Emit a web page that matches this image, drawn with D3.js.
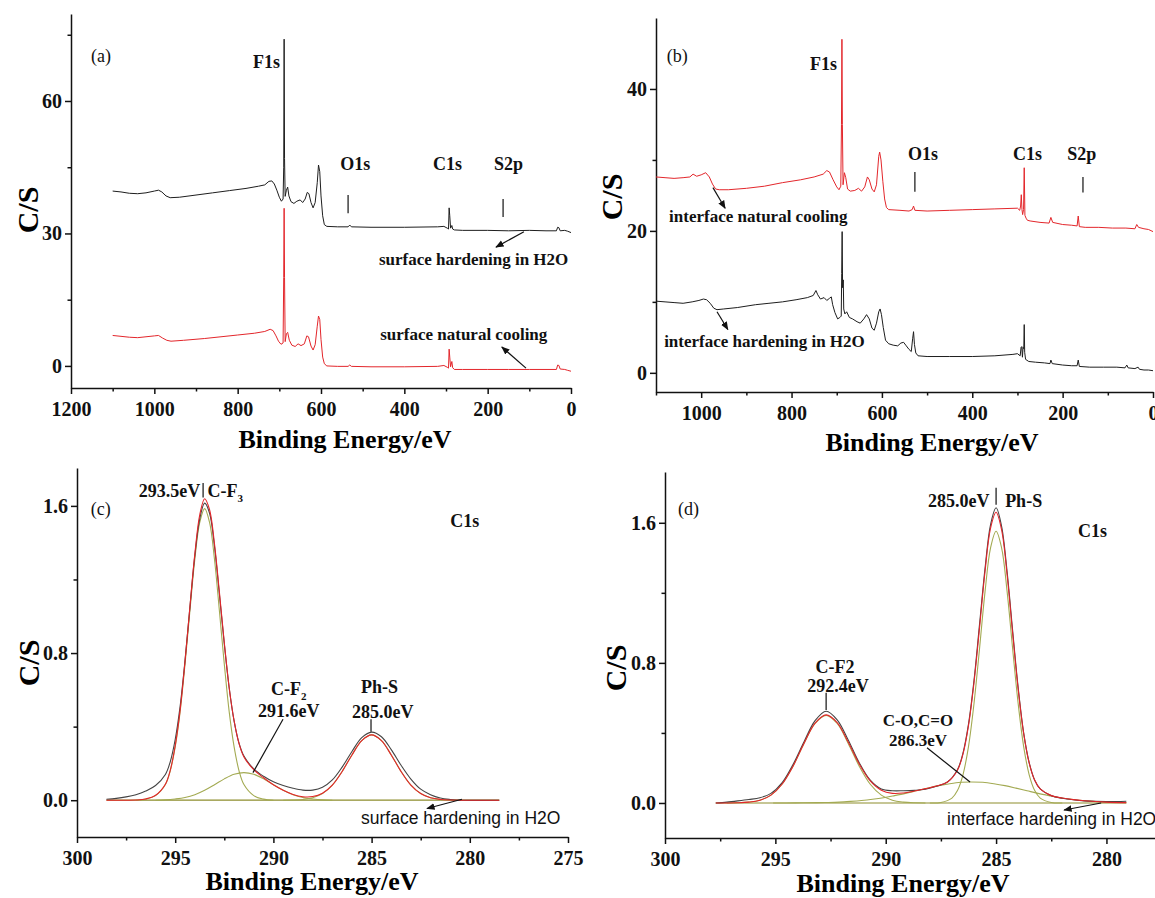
<!DOCTYPE html>
<html>
<head>
<meta charset="utf-8">
<script src="https://cdn.jsdelivr.net/npm/d3@7"></script>
<style>
  body { margin: 0; background: #fff; }
</style>
</head>
<body>
<script>
// XPS spectra: survey scans (a, b) and C1s fits (c, d)

// (a) survey, surface - [binding energy eV, C/S]
var surfaceH2O = [[1100,39.6],[1080,39.4],[1060,39.1],[1040,39.0],[1020,39.2],[1000,39.6],[990,39.8],[982,39.4],[972,38.5],[962,38.1],[940,38.2],[900,38.7],[860,39.2],[820,39.7],[780,40.2],[750,40.7],[735,41.0],[725,41.8],[718,41.9],[712,41.2],[706,39.8],[700,38.2],[695,37.3],[691,37.8],[689.5,45],[688.5,74],[687.5,47],[686,38.4],[683,39.8],[680,40.5],[677,38.5],[672,37.2],[665,36.8],[658,37.3],[650,37.6],[644,37.0],[638,37.8],[633,39.3],[629,39.0],[624,37.0],[619,35.8],[614,37.0],[609,41.5],[606,45.5],[603,44.0],[600,38.5],[596,34.0],[592,32.0],[586,31.6],[560,31.5],[535,31.5],[531,31.9],[527,31.5],[480,31.4],[400,31.4],[320,31.5],[305,31.6],[297,31.2],[294,31.0],[292.5,35.8],[291,34.0],[289,31.2],[286,31.8],[284,31.0],[280,30.8],[260,30.7],[200,30.7],[150,30.6],[100,30.7],[60,30.6],[35,30.6],[32,31.4],[29,31.3],[26,30.6],[15,30.7],[8,30.5],[0,30.2]];
var surfaceNatural = [[1100,6.9],[1080,6.7],[1060,6.5],[1040,6.4],[1020,6.6],[1000,6.8],[990,6.9],[980,6.3],[970,5.8],[960,5.6],[930,5.8],[880,6.2],[840,6.6],[800,7.0],[760,7.4],[735,7.8],[722,8.3],[715,8.0],[708,6.8],[702,5.6],[696,4.9],[691,5.2],[689.5,20],[688.5,35.7],[687.5,20],[686,5.5],[683,7.3],[680,7.6],[676,5.8],[670,4.7],[662,4.4],[655,5.0],[648,4.6],[640,5.0],[634,6.8],[630,6.6],[624,4.5],[619,3.6],[614,4.8],[609,9.0],[606,11.3],[603,10.5],[600,6.0],[596,2.0],[592,0.5],[586,0.0],[560,-0.1],[535,-0.1],[531,0.2],[527,-0.1],[480,-0.2],[400,-0.2],[320,-0.1],[305,0.1],[297,-0.3],[294,-0.5],[292.5,3.8],[291,2.0],[289,-0.2],[286,1.0],[284,-0.4],[280,-0.8],[260,-0.8],[200,-0.8],[150,-0.8],[100,-0.8],[60,-0.8],[35,-0.8],[32,0.2],[29,0.1],[26,-0.7],[15,-0.8],[8,-1.0],[0,-1.2]];

// (b) survey, interface
var interfaceNatural = [[1100,27.6],[1080,27.5],[1060,27.4],[1040,27.5],[1025,27.6],[1018,28.0],[1010,27.7],[1000,27.9],[990,28.2],[982,27.6],[975,26.6],[968,25.9],[960,25.8],[940,25.8],[900,26.0],[860,26.3],[820,26.8],[780,27.2],[750,27.6],[730,28.0],[722,28.5],[716,28.3],[708,27.2],[700,26.2],[695,25.8],[691,26.3],[689.5,35],[688.5,47.0],[687.5,35],[686,26.5],[683,28.2],[680,27.5],[676,25.9],[670,25.6],[660,25.7],[652,26.0],[645,25.6],[638,26.2],[632,27.6],[628,27.2],[622,25.9],[617,25.5],[612,26.5],[607,30.5],[605,31.1],[602,30.0],[598,27.0],[594,24.5],[590,23.3],[585,23.0],[560,22.9],[540,22.8],[533,23.0],[530,23.5],[527,22.9],[500,22.8],[450,22.9],[400,23.0],[350,23.1],[300,23.2],[295,22.9],[293,23.5],[291.5,25.1],[290,23.0],[288.5,22.3],[286.5,23.0],[285,28.9],[283.5,22.2],[281,21.8],[278,21.5],[272,21.4],[250,21.2],[230,21.1],[226,21.9],[222,21.2],[200,20.9],[180,20.8],[168,20.7],[165.5,22.1],[163,20.6],[150,20.5],[120,20.5],[90,20.4],[60,20.4],[40,20.3],[36,20.9],[32,20.5],[20,20.3],[10,20.2],[0,19.9]];
var interfaceH2O = [[1100,10.1],[1080,10.0],[1060,9.9],[1040,9.8],[1020,10.0],[1005,10.2],[995,10.4],[988,10.3],[980,9.8],[972,9.1],[965,8.9],[950,9.0],[920,9.2],[880,9.6],[850,9.8],[820,10.0],[790,10.3],[765,10.6],[752,10.9],[746,11.6],[742,11.0],[736,10.4],[728,10.6],[722,10.2],[716,10.5],[712,10.7],[709,9.6],[704,8.5],[698,7.6],[693,7.8],[690,8.0],[689,14],[688,19.9],[687,12],[685.5,13.1],[684.5,9],[682,8.3],[678,8.6],[672,7.8],[665,7.6],[655,7.2],[648,7.0],[640,7.6],[634,8.2],[628,7.6],[622,6.3],[617,6.0],[612,7.0],[607,8.6],[604,9.0],[601,8.2],[597,6.4],[592,4.6],[585,4.1],[575,3.9],[565,3.8],[558,4.2],[552,4.3],[546,3.8],[540,3.3],[535,3.0],[532,4.8],[530,5.8],[528,4.0],[525,2.8],[520,2.4],[500,2.3],[450,2.3],[400,2.3],[350,2.4],[310,2.6],[300,2.7],[294,2.4],[292,3.6],[290.5,3.7],[289,2.2],[287.5,3.6],[286,3.4],[285,6.8],[284,2.9],[282,1.9],[275,1.6],[260,1.5],[240,1.4],[228,1.3],[226,1.8],[223,1.3],[200,1.1],[180,1.0],[168,1.0],[165.5,1.8],[163,0.9],[140,0.8],[110,0.8],[80,0.8],[62,0.7],[58,1.1],[55,0.7],[40,0.6],[33,0.8],[30,0.5],[20,0.4],[10,0.4],[0,0.3]];

// (c) C1s, surface hardening in H2O
var cMeasured = [[298.5,0.005],[298,0.01],[297.5,0.018],[297,0.03],[296.5,0.05],[296,0.08],[295.5,0.14],[295.25,0.21],[295,0.33],[294.75,0.51],[294.5,0.76],[294.25,1.05],[294,1.33],[293.75,1.53],[293.5,1.615],[293.25,1.56],[293,1.38],[292.75,1.12],[292.5,0.85],[292.25,0.61],[292,0.43],[291.75,0.31],[291.5,0.24],[291,0.17],[290.5,0.13],[290,0.1],[289.5,0.08],[289,0.065],[288.5,0.055],[288,0.055],[287.5,0.07],[287,0.11],[286.5,0.18],[286,0.265],[285.5,0.34],[285,0.37],[284.5,0.345],[284,0.275],[283.5,0.19],[283,0.115],[282.5,0.06],[282,0.03],[281.5,0.012],[281,0.004],[280.5,0],[278.5,0]];
var cEnvelope = [[298.5,0],[297.5,0],[297,0.001],[296.5,0.007],[296,0.027],[295.5,0.087],[295.25,0.164],[295,0.297],[294.75,0.49],[294.5,0.755],[294.25,1.052],[294,1.34],[293.75,1.551],[293.5,1.639],[293.25,1.579],[293,1.394],[292.75,1.131],[292.5,0.856],[292.25,0.61],[292,0.431],[291.75,0.308],[291.5,0.235],[291,0.166],[290.5,0.122],[290,0.084],[289.5,0.054],[289,0.031],[288.5,0.019],[288,0.02],[287.5,0.038],[287,0.082],[286.5,0.156],[286,0.246],[285.5,0.324],[285,0.355],[284.5,0.324],[284,0.246],[283.5,0.156],[283,0.082],[282.5,0.036],[282,0.013],[281.5,0.004],[281,0.001],[280,0],[278.5,0]];
var cCF3 = [[297,0],[296.5,0.006],[296,0.025],[295.5,0.085],[295.25,0.16],[295,0.29],[294.75,0.48],[294.5,0.74],[294.25,1.03],[294,1.31],[293.75,1.51],[293.5,1.585],[293.25,1.51],[293,1.31],[292.75,1.03],[292.5,0.74],[292.25,0.48],[292,0.29],[291.75,0.16],[291.5,0.085],[291,0.025],[290.5,0.006],[290,0]];
var cCF2 = [[296,0],[295.5,0.002],[295,0.007],[294.5,0.015],[294,0.03],[293.5,0.054],[293,0.084],[292.5,0.116],[292,0.141],[291.5,0.15],[291,0.141],[290.5,0.116],[290,0.084],[289.5,0.054],[289,0.03],[288.5,0.015],[288,0.007],[287.5,0.002],[287,0]];
var cPhS = [[289.5,0],[289,0.001],[288.5,0.004],[288,0.013],[287.5,0.036],[287,0.082],[286.5,0.156],[286,0.246],[285.5,0.324],[285,0.355],[284.5,0.324],[284,0.246],[283.5,0.156],[283,0.082],[282.5,0.036],[282,0.013],[281.5,0.004],[281,0.001],[280.5,0]];
var cBaseline = [[298.5,0],[278.5,0]];

// (d) C1s, interface hardening in H2O
var dMeasured = [[297.7,0],[297.2,0.005],[296.7,0.012],[296.2,0.02],[295.7,0.03],[295.2,0.055],[294.7,0.115],[294.2,0.22],[293.7,0.35],[293.2,0.47],[292.7,0.524],[292.2,0.475],[291.7,0.36],[291.2,0.23],[290.7,0.13],[290.2,0.08],[289.7,0.07],[289.2,0.07],[288.7,0.072],[288.2,0.078],[287.7,0.095],[287.2,0.12],[286.75,0.19],[286.5,0.285],[286.25,0.45],[286,0.7],[285.75,1.02],[285.5,1.34],[285.25,1.59],[285,1.686],[284.75,1.58],[284.5,1.32],[284.25,0.985],[284,0.66],[283.75,0.4],[283.5,0.23],[283.25,0.13],[283,0.08],[282.5,0.042],[282,0.027],[281.5,0.018],[281,0.012],[280,0.008],[279.1,0.01]];
var dEnvelope = [[297.7,0],[297.2,0],[296.7,0.001],[296.2,0.005],[295.7,0.016],[295.2,0.045],[294.7,0.107],[294.2,0.21],[293.7,0.341],[293.2,0.456],[292.7,0.503],[292.2,0.459],[291.7,0.348],[291.2,0.223],[290.7,0.126],[290.2,0.073],[289.7,0.055],[289.2,0.057],[288.7,0.068],[288.2,0.082],[287.7,0.097],[287.2,0.12],[286.75,0.187],[286.5,0.279],[286.25,0.442],[286,0.688],[285.75,1.0],[285.5,1.323],[285.25,1.57],[285,1.66],[284.75,1.559],[284.5,1.303],[284.25,0.97],[284,0.65],[283.75,0.396],[283.5,0.228],[283.25,0.13],[283,0.08],[282.5,0.042],[282,0.028],[281.5,0.019],[281,0.013],[280,0.005],[279.1,0.002]];
var dCF2 = [[297.2,0],[296.7,0.001],[296.2,0.005],[295.7,0.016],[295.2,0.045],[294.7,0.107],[294.2,0.21],[293.7,0.34],[293.2,0.454],[292.7,0.5],[292.2,0.454],[291.7,0.34],[291.2,0.21],[290.7,0.107],[290.2,0.045],[289.7,0.016],[289.2,0.005],[288.7,0.001],[288.2,0]];
var dCO = [[295.1,0],[294.1,0.0005],[293.1,0.002],[292.6,0.003],[292.1,0.005],[291.6,0.009],[291.1,0.014],[290.6,0.021],[290.1,0.03],[289.6,0.042],[289.1,0.055],[288.6,0.07],[288.1,0.085],[287.6,0.099],[287.1,0.11],[286.6,0.118],[286.1,0.12],[285.6,0.118],[285.1,0.11],[284.6,0.099],[284.1,0.085],[283.6,0.07],[283.1,0.055],[282.6,0.042],[282.1,0.03],[281.6,0.021],[281.1,0.014],[280.6,0.009],[280.1,0.005],[279.6,0.003],[279.1,0.002]];
var dPhS = [[288,0],[287.5,0.003],[287,0.028],[286.75,0.071],[286.5,0.161],[286.25,0.322],[286,0.568],[285.75,0.881],[285.5,1.207],[285.25,1.457],[285,1.552],[284.75,1.457],[284.5,1.207],[284.25,0.881],[284,0.568],[283.75,0.322],[283.5,0.161],[283.25,0.071],[283,0.028],[282.5,0.003],[282,0]];
var dBaseline = [[297.7,0],[279.1,0]];

// tick values
var surveyTicksA = [1200, 1000, 800, 600, 400, 200, 0];
var surveyMinorA = [1100, 900, 700, 500, 300, 100];
var surveyTicksB = [1000, 800, 600, 400, 200, 0];
var surveyMinorB = [1100, 900, 700, 500, 300, 100];
var countTicksA = [0, 30, 60];
var countMinorA = [15, 45, 75];
var countTicksB = [0, 20, 40];
var countMinorB = [10, 30];
var c1sTicksC = [300, 295, 290, 285, 280, 275];
var c1sTicksD = [300, 295, 290, 285, 280];
var c1sMinor = [297.5, 292.5, 287.5, 282.5, 277.5];
var c1sCountTicks = [0, 0.8, 1.6];
var c1sCountMinor = [0.4, 1.2];

var RED = "#e3262b", BLACK = "#1e1e1e", GREEN = "#a3aa52", OLIVE = "#8d8d2c";
var SERIF = "Liberation Serif, Times New Roman, serif";
var SANS = "Liberation Sans, Arial, sans-serif";

var svg = d3.select("body").append("svg")
    .attr("width", 1155)
    .attr("height", 898);

var defs = svg.append("defs");
defs.append("marker")
    .attr("id", "arrow")
    .attr("viewBox", "0 0 10 10")
    .attr("refX", 9).attr("refY", 5)
    .attr("markerWidth", 7).attr("markerHeight", 7)
    .attr("orient", "auto")
    .append("path")
    .attr("d", "M0,1 L10,5 L0,9 Z")
    .attr("fill", "#111");

var panels = {
    a: { x: d3.scaleLinear().domain([1200, 0]).range([71, 571]),
         y: d3.scaleLinear().domain([-5, 79.7]).range([388, 14]),
         xt: surveyTicksA, xm: surveyMinorA, yt: countTicksA, ym: countMinorA, fmt: d3.format("d"),
         title: [345, 448], ylab: [27, 210] },
    b: { x: d3.scaleLinear().domain([1100, 0]).range([656, 1153]),
         y: d3.scaleLinear().domain([-2.7, 50]).range([392, 18]),
         xt: surveyTicksB, xm: surveyMinorB, yt: countTicksB, ym: countMinorB, fmt: d3.format("d"),
         title: [932, 451], ylab: [611, 197] },
    c: { x: d3.scaleLinear().domain([300, 275]).range([77, 568]),
         y: d3.scaleLinear().domain([-0.2, 1.806]).range([837, 468]),
         xt: c1sTicksC, xm: c1sMinor, yt: c1sCountTicks, ym: c1sCountMinor, fmt: d3.format(".1f"),
         title: [312, 890], ylab: [28, 663] },
    d: { x: d3.scaleLinear().domain([300, 277.8]).range([665, 1155]),
         y: d3.scaleLinear().domain([-0.2, 1.89]).range([838, 472]),
         xt: c1sTicksD, xm: c1sMinor.filter(function (v) { return v > 277.8; }), yt: c1sCountTicks, ym: c1sCountMinor, fmt: d3.format(".1f"),
         title: [903, 892], ylab: [615, 668] }
};

function styleAxis(g) {
    g.attr("font-family", SERIF).attr("font-size", 20).attr("font-weight", "bold");
    g.selectAll("path, line").attr("stroke", "#111").attr("stroke-width", 1.5);
    g.selectAll("text").attr("fill", "#111");
}

function drawAxes(p) {
    var x0 = p.x.range()[0], y0 = p.y.range()[0];
    svg.append("g").attr("transform", "translate(0," + y0 + ")")
        .call(d3.axisBottom(p.x).tickValues(p.xm).tickSize(3.5).tickFormat(""))
        .call(function (g) { g.select(".domain").remove(); })
        .call(styleAxis);
    svg.append("g").attr("transform", "translate(" + x0 + ",0)")
        .call(d3.axisLeft(p.y).tickValues(p.ym).tickSize(3.5).tickFormat(""))
        .call(function (g) { g.select(".domain").remove(); })
        .call(styleAxis);
    svg.append("g").attr("transform", "translate(0," + y0 + ")")
        .call(d3.axisBottom(p.x).tickValues(p.xt).tickSize(6).tickSizeOuter(0).tickPadding(8).tickFormat(d3.format("d")))
        .call(styleAxis);
    svg.append("g").attr("transform", "translate(" + x0 + ",0)")
        .call(d3.axisLeft(p.y).tickValues(p.yt).tickSize(6).tickSizeOuter(0).tickPadding(3).tickFormat(p.fmt))
        .call(styleAxis);

    svg.append("text")
        .attr("x", p.title[0]).attr("y", p.title[1])
        .attr("text-anchor", "middle")
        .attr("font-family", SERIF).attr("font-weight", "bold").attr("font-size", 26)
        .text("Binding Energy/eV");
    svg.append("text")
        .attr("transform", "translate(" + p.ylab[0] + "," + p.ylab[1] + ") rotate(-90)")
        .attr("text-anchor", "middle").attr("dominant-baseline", "central")
        .attr("font-family", SERIF).attr("font-weight", "bold").attr("font-size", 30)
        .text("C/S");
}

function drawCurve(p, data, color, width, smooth) {
    var line = d3.line()
        .x(function (d) { return p.x(d[0]); })
        .y(function (d) { return p.y(d[1]); })
        .curve(smooth ? d3.curveCatmullRom.alpha(0.5) : d3.curveLinear);
    svg.append("path")
        .datum(data)
        .attr("d", line)
        .attr("fill", "none")
        .attr("stroke", color)
        .attr("stroke-width", width)
        .attr("stroke-linejoin", "round");
}

function label(p, be, v, txt, opt) {
    opt = opt || {};
    return svg.append("text")
        .attr("x", p.x(be)).attr("y", p.y(v))
        .attr("text-anchor", opt.anchor || "start")
        .attr("font-family", opt.font || SERIF)
        .attr("font-weight", opt.weight || "bold")
        .attr("font-size", opt.size || 18)
        .attr("fill", "#111")
        .text(txt);
}

function segment(p, be1, v1, be2, v2, arrow) {
    var l = svg.append("line")
        .attr("x1", p.x(be1)).attr("y1", p.y(v1))
        .attr("x2", p.x(be2)).attr("y2", p.y(v2))
        .attr("stroke", "#111").attr("stroke-width", 1.2);
    if (arrow) l.attr("marker-end", "url(#arrow)");
}

// ---- (a)
var pa = panels.a;
drawAxes(pa);
drawCurve(pa, surfaceNatural, RED, 1, false);
drawCurve(pa, surfaceH2O, BLACK, 1, false);
label(pa, 1152, 68.8, "(a)", { weight: "normal" });
label(pa, 763, 67.5, "F1s");
label(pa, 554, 44.4, "O1s");
label(pa, 331, 44.4, "C1s");
label(pa, 185, 44.4, "S2p");
segment(pa, 535, 38.7, 535, 34.6);
segment(pa, 163, 37.8, 163, 33.7);
label(pa, 461, 22.9, "surface hardening in H2O", { size: 17 });
segment(pa, 113, 30.4, 180, 26.9, true);
label(pa, 458, 5.9, "surface natural cooling", { size: 17 });
segment(pa, 108, -0.5, 166, 4.3, true);

// ---- (b)
var pb = panels.b;
drawAxes(pb);
drawCurve(pb, interfaceNatural, RED, 1, false);
drawCurve(pb, interfaceH2O, BLACK, 1, false);
label(pb, 1076, 43.8, "(b)", { weight: "normal" });
label(pb, 759, 42.7, "F1s");
label(pb, 542, 30.0, "O1s");
label(pb, 310, 30.0, "C1s");
label(pb, 190, 30.0, "S2p");
segment(pb, 527, 28.3, 527, 25.5);
segment(pb, 155, 27.6, 155, 25.4);
label(pb, 1071, 21.3, "interface natural cooling", { size: 17 });
segment(pb, 974, 26.1, 947, 23.2, true);
label(pb, 1082, 3.7, "interface hardening in H2O", { size: 17 });
segment(pb, 965, 8.6, 941, 6.1, true);

// ---- (c)
var pc = panels.c;
drawAxes(pc);
drawCurve(pc, cBaseline, OLIVE, 1.2, false);
drawCurve(pc, cCF3, GREEN, 1.1, true);
drawCurve(pc, cCF2, GREEN, 1.1, true);
drawCurve(pc, cPhS, GREEN, 1.1, true);
drawCurve(pc, cMeasured, "#444", 1.1, true);
drawCurve(pc, cEnvelope, RED, 1.1, true);
label(pc, 299.3, 1.549, "(c)", { weight: "normal" });
label(pc, 293.72, 1.647, "293.5eV", { anchor: "end" });
segment(pc, 293.58, 1.725, 293.58, 1.645);
var cf3 = label(pc, 293.36, 1.647, "C-F");
cf3.append("tspan").attr("font-size", 11).attr("dy", 5).text("3");
label(pc, 281.0, 1.484, "C1s");
var cf2 = label(pc, 290.12, 0.571, "C-F");
cf2.append("tspan").attr("font-size", 11).attr("dy", 5).text("2");
label(pc, 290.78, 0.451, "291.6eV");
segment(pc, 289.51, 0.44, 291.04, 0.15);
label(pc, 285.54, 0.582, "Ph-S");
label(pc, 286.0, 0.446, "285.0eV");
segment(pc, 285.03, 0.44, 285.03, 0.372);
label(pc, 285.54, -0.13, "surface hardening in H2O", { font: SANS, weight: "normal", size: 17.5 });
segment(pc, 280.4, 0.005, 282.18, -0.045, true);

// ---- (d)
var pd = panels.d;
drawAxes(pd);
drawCurve(pd, dBaseline, OLIVE, 1.2, false);
drawCurve(pd, dCF2, GREEN, 1.1, true);
drawCurve(pd, dCO, GREEN, 1.1, true);
drawCurve(pd, dPhS, GREEN, 1.1, true);
drawCurve(pd, dMeasured, "#444", 1.1, true);
drawCurve(pd, dEnvelope, RED, 1.1, true);
label(pd, 299.41, 1.646, "(d)", { weight: "normal" });
label(pd, 285.3, 1.691, "285.0eV", { anchor: "end" });
segment(pd, 285.0, 1.8, 285.0, 1.703);
label(pd, 284.59, 1.691, "Ph-S");
label(pd, 281.29, 1.52, "C1s");
label(pd, 292.3, 0.743, "C-F2", { anchor: "middle" });
label(pd, 292.16, 0.634, "292.4eV", { anchor: "middle" });
segment(pd, 292.7, 0.629, 292.7, 0.531);
label(pd, 288.54, 0.44, "C-O,C=O", { anchor: "middle", size: 17 });
label(pd, 288.54, 0.326, "286.3eV", { anchor: "middle", size: 17 });
segment(pd, 288.13, 0.315, 286.18, 0.12);
label(pd, 287.22, -0.126, "interface hardening in H2O", { font: SANS, weight: "normal", size: 17.5 });
segment(pd, 280.24, 0.0, 281.92, -0.04, true);
</script>
</body>
</html>
